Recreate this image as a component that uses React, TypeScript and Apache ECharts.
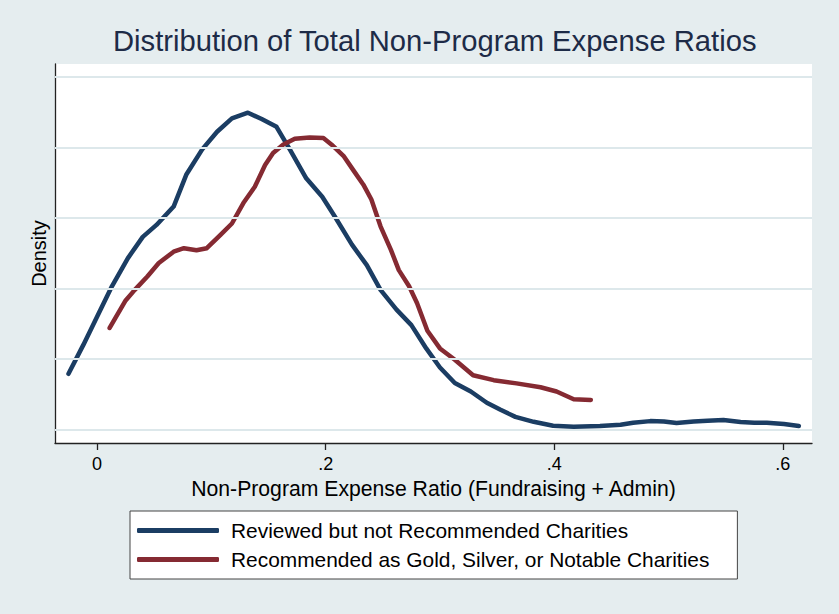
import React, { useEffect, useRef } from "react";
import * as echarts from "echarts";

const titleText = "Distribution of Total Non-Program Expense Ratios";
const xAxisTitle = "Non-Program Expense Ratio (Fundraising + Admin)";
const yAxisTitle = "Density";
const seriesNames = [
  "Reviewed but not Recommended Charities",
  "Recommended as Gold, Silver, or Notable Charities",
];
const xTickValues = [0, 0.2, 0.4, 0.6];
const gridValues = [0, 1, 2, 3, 4, 5];

const reviewedX = [
  -0.025, -0.012, 0.0, 0.013, 0.027, 0.04, 0.052, 0.067, 0.078, 0.092, 0.105,
  0.118, 0.132, 0.144, 0.157, 0.169, 0.183, 0.197, 0.208, 0.223, 0.236, 0.248,
  0.262, 0.275, 0.288, 0.3, 0.313, 0.327, 0.341, 0.353, 0.366, 0.382, 0.399,
  0.417, 0.44, 0.458, 0.469, 0.484, 0.496, 0.507, 0.522, 0.534, 0.548, 0.563,
  0.575, 0.586, 0.601, 0.614,
];
const reviewedY = [
  0.79, 1.2, 1.6, 2.03, 2.43, 2.73, 2.9, 3.16, 3.61, 3.97, 4.22, 4.41, 4.49,
  4.4, 4.29, 3.96, 3.56, 3.3, 3.02, 2.62, 2.33, 1.98, 1.7, 1.48, 1.15, 0.88,
  0.66, 0.54, 0.38, 0.28, 0.18, 0.11, 0.054, 0.04, 0.05, 0.068, 0.097, 0.12,
  0.116, 0.092, 0.116, 0.125, 0.135, 0.106, 0.097, 0.097, 0.078, 0.05,
];

const recommendedX = [
  0.011, 0.025, 0.033, 0.044, 0.054, 0.067, 0.076, 0.087, 0.096, 0.108, 0.118,
  0.128, 0.138, 0.147, 0.154, 0.163, 0.173, 0.186, 0.198, 0.205, 0.216, 0.224,
  0.233, 0.24, 0.248, 0.257, 0.264, 0.273, 0.28, 0.289, 0.3, 0.313, 0.329,
  0.347, 0.367, 0.388, 0.402, 0.417, 0.432,
];
const recommendedY = [
  1.44, 1.83, 1.98, 2.17, 2.36, 2.52, 2.57, 2.54, 2.57, 2.76, 2.92, 3.21, 3.44,
  3.75, 3.92, 4.04, 4.12, 4.14, 4.13, 4.04, 3.87, 3.68, 3.47, 3.26, 2.88, 2.55,
  2.26, 2.03, 1.79, 1.4, 1.15, 0.99, 0.77, 0.7, 0.655, 0.6, 0.54, 0.43, 0.42,
];

const colors = ["#1b3d63", "#852a32"];
const FONT = "'Liberation Sans', Arial, sans-serif";

function zip(xs: number[], ys: number[]) {
  return xs.map((x, i) => [x, ys[i]]);
}

export default function App() {
  const ref = useRef<HTMLDivElement>(null);
  useEffect(() => {
    if (!ref.current) return;
    const chart = echarts.init(ref.current, null, { renderer: "svg" });
    chart.setOption({
      animation: false,
      backgroundColor: "#e5edef",
      textStyle: { fontFamily: FONT },
      title: {
        text: titleText,
        left: 113,
        top: 26,
        padding: 0,
        textStyle: {
          fontFamily: FONT,
          fontSize: 29.2,
          fontWeight: "normal",
          color: "#1d2b47",
        },
      },
      grid: {
        left: 55,
        top: 64,
        width: 757,
        height: 379,
        show: true,
        backgroundColor: "#ffffff",
        borderWidth: 0,
      },
      legend: {
        left: 130,
        top: 511,
        orient: "vertical",
        padding: [9, 28, 9, 7],
        itemWidth: 82,
        itemHeight: 5,
        itemGap: 8,
        icon: "roundRect",
        backgroundColor: "#ffffff",
        borderColor: "#444444",
        borderWidth: 1,
        borderRadius: 0,
        textStyle: {
          fontFamily: FONT,
          fontSize: 20.9,
          color: "#000000",
          padding: [0, 0, 0, 7],
        },
        data: seriesNames,
      },
      xAxis: {
        type: "value",
        min: -0.0368,
        max: 0.6255,
        name: xAxisTitle,
        nameLocation: "middle",
        nameGap: 33,
        nameTextStyle: { fontFamily: FONT, fontSize: 21.2, color: "#000000" },
        axisLine: { show: true, onZero: false, lineStyle: { color: "#222222", width: 1.3 } },
        axisTick: {
          show: true,
          customValues: xTickValues,
          length: 7,
          lineStyle: { color: "#222222", width: 1.3 },
        },
        axisLabel: {
          customValues: xTickValues,
          margin: 12,
          fontFamily: FONT,
          fontSize: 18,
          color: "#000000",
          formatter: (v: number) =>
            v === 0 ? "0" : String(Number(v.toFixed(1))).replace(/^0/, ""),
        },
        splitLine: { show: false },
      },
      yAxis: {
        type: "value",
        min: -0.19,
        max: 5.18,
        name: yAxisTitle,
        nameLocation: "middle",
        nameRotate: 90,
        nameGap: 6,
        nameTextStyle: { fontFamily: FONT, fontSize: 20, color: "#000000" },
        axisLine: { show: true, onZero: false, lineStyle: { color: "#222222", width: 1.3 } },
        axisTick: { show: false },
        axisLabel: { show: false },
        splitLine: { show: false },
      },
      series: [
        {
          name: "grid",
          type: "line",
          data: [],
          z: 1,
          silent: true,
          markLine: {
            silent: true,
            symbol: "none",
            label: { show: false },
            lineStyle: { color: "#dde8eb", width: 2, type: "solid" },
            data: gridValues.map((v) => ({ yAxis: v })),
          },
        },
        {
          name: seriesNames[0],
          type: "line",
          z: 3,
          showSymbol: false,
          data: zip(reviewedX, reviewedY),
          lineStyle: { color: colors[0], width: 4.5, cap: "round", join: "round" },
          itemStyle: { color: colors[0] },
        },
        {
          name: seriesNames[1],
          type: "line",
          z: 4,
          showSymbol: false,
          data: zip(recommendedX, recommendedY),
          lineStyle: { color: colors[1], width: 4.5, cap: "round", join: "round" },
          itemStyle: { color: colors[1] },
        },
      ],
    });
    return () => chart.dispose();
  }, []);
  return (
    <div
      ref={ref}
      style={{ position: "fixed", left: 0, top: 0, width: 839, height: 614 }}
    />
  );
}
